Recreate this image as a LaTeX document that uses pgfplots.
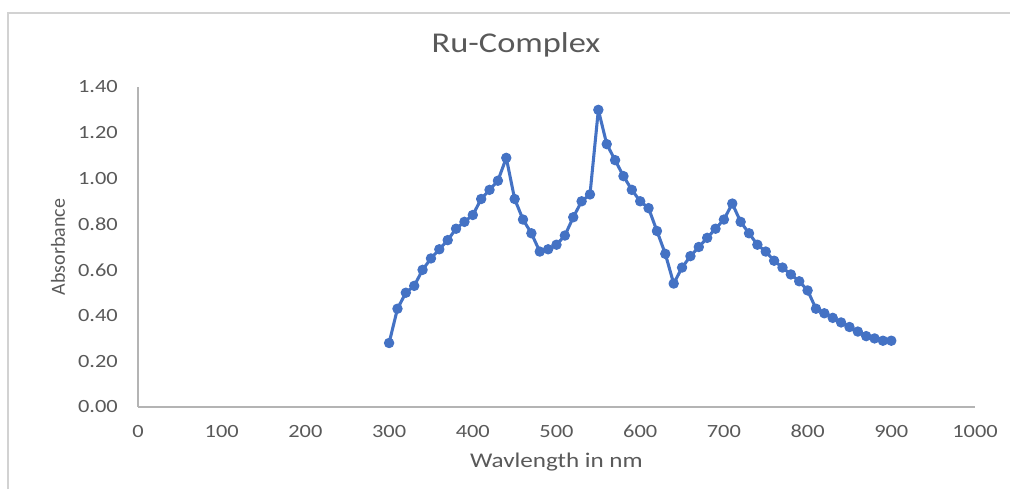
\documentclass[border=0pt]{standalone}
\usepackage{fontspec}
\setmainfont{Carlito}[FakeStretch=1.2]
\newfontfamily\yfont{Carlito}
\usepackage{pgfplots}
\pgfplotsset{compat=1.18}
\definecolor{txt}{RGB}{89,89,89}
\definecolor{ln}{RGB}{68,114,196}
\definecolor{ax}{RGB}{180,180,180}
\begin{document}
\begin{tikzpicture}
\begin{scope}[x=0.75pt,y=0.75pt]
\path[use as bounding box] (0,0) rectangle (1010,489);
\draw[gray!35,line width=1.2pt] (8,0) -- (8,476) -- (1010,476);
\node[txt,font=\fontsize{21.5}{24}\selectfont] at (516,444) {Ru-Complex};
\end{scope}
\begin{axis}[
  at={(103.5pt,61.5pt)}, anchor=south west,
  scale only axis, width=627.75pt, height=240pt,
  xmin=0, xmax=1000, ymin=0, ymax=1.4,
  xtick={0,100,...,1000}, ytick={0,0.2,...,1.4},
  axis lines*=left,
  axis line style={ax, line width=0.8pt, -},
  major tick length=0pt,
  tick style={draw=none},
  /pgf/number format/assume math mode=true,
  yticklabel={\pgfmathprintnumber[fixed,fixed zerofill,precision=2]{\tick}},
  xticklabel={\pgfmathprintnumber[int detect,1000 sep={}]{\tick}},
  ticklabel style={font=\fontsize{14}{16}\selectfont, text=txt, inner sep=0pt},
  yticklabel style={anchor=east, xshift=-15pt},
  xticklabel style={anchor=center, yshift=-18.5pt},
  scaled y ticks=false,
  xlabel={Wavlength in nm},
  ylabel={\yfont Absorbance},
  xlabel style={at={(axis description cs:0.5,0)}, anchor=center, yshift=-41pt, font=\fontsize{15.7}{18}\selectfont, text=txt},
  ylabel style={at={(axis description cs:0,0.5)}, anchor=center, yshift=60pt, font=\fontsize{15}{18}\selectfont, text=txt},
  clip=false,
]
\addplot[ln, line width=2.3pt, line join=round, mark=*, mark size=3.5pt, mark options={fill=ln, draw=ln, line width=0.8pt, solid}] coordinates {
(300,0.28) (310,0.43) (320,0.50) (330,0.53) (340,0.60) (350,0.65) (360,0.69) (370,0.73) (380,0.78) (390,0.81)
(400,0.84) (410,0.91) (420,0.95) (430,0.99) (440,1.09) (450,0.91) (460,0.82) (470,0.76) (480,0.68) (490,0.69)
(500,0.71) (510,0.75) (520,0.83) (530,0.90) (540,0.93) (550,1.30) (560,1.15) (570,1.08) (580,1.01) (590,0.95)
(600,0.90) (610,0.87) (620,0.77) (630,0.67) (640,0.54) (650,0.61) (660,0.66) (670,0.70) (680,0.74) (690,0.78)
(700,0.82) (710,0.89) (720,0.81) (730,0.76) (740,0.71) (750,0.68) (760,0.64) (770,0.61) (780,0.58) (790,0.55)
(800,0.51) (810,0.43) (820,0.41) (830,0.39) (840,0.37) (850,0.35) (860,0.33) (870,0.31) (880,0.30) (890,0.29)
(900,0.29)
};
\end{axis}
\end{tikzpicture}
\end{document}
